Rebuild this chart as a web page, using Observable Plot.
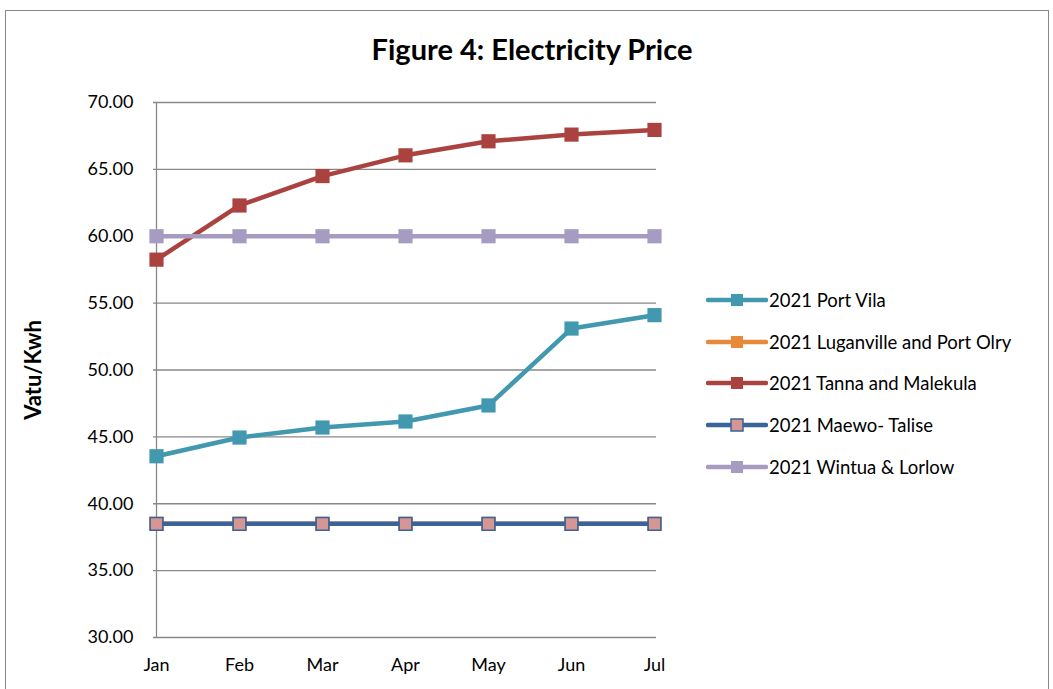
<!DOCTYPE html>
<html>
<head>
<meta charset="utf-8">
<script src="https://cdn.jsdelivr.net/npm/d3@7"></script>
<script src="https://cdn.jsdelivr.net/npm/@observablehq/plot@0.6"></script>
<style>
  html, body { margin: 0; padding: 0; background: #fff; }
  #wrap { position: relative; width: 1053px; height: 689px; overflow: hidden; font-family: Lato, "Open Sans", sans-serif; }
  #frame { position: absolute; left: 5px; top: 10px; width: 1044px; height: 720px; border: 1px solid #888; box-sizing: border-box; }
  #title { position: absolute; left: 0; width: 1064px; top: 31px; text-align: center; font-weight: bold; font-size: 29px; color: #000; }
  #chart { position: absolute; left: 0; top: 80px; }
  #legend { position: absolute; left: 706px; top: 279px; }
  .item { display: flex; align-items: center; height: 41.8px; font-size: 18.5px; color: #000; }
  .item svg { margin-right: 1px; }
  #chart svg text { font-family: Lato, "Open Sans", sans-serif; }
  g[aria-label="y-axis label"] text { font-weight: bold; font-size: 22px; }
</style>
</head>
<body>
<div id="wrap">
  <div id="frame"></div>
  <div id="title">Figure 4: Electricity Price</div>
  <div id="chart"></div>
  <div id="legend"></div>
</div>
<script>
const months = ["Jan", "Feb", "Mar", "Apr", "May", "Jun", "Jul"];
const seriesNames = [
  "2021 Port Vila",
  "2021 Luganville and Port Olry",
  "2021 Tanna and Malekula",
  "2021 Maewo- Talise",
  "2021 Wintua & Lorlow"
];
const portVila   = [43.55, 44.95, 45.70, 46.15, 47.35, 53.10, 54.10];
const luganville = [38.50, 38.50, 38.50, 38.50, 38.50, 38.50, 38.50];
const tanna      = [58.25, 62.30, 64.50, 66.05, 67.10, 67.60, 67.95];
const maewo      = [38.50, 38.50, 38.50, 38.50, 38.50, 38.50, 38.50];
const wintua     = [60.00, 60.00, 60.00, 60.00, 60.00, 60.00, 60.00];
const yTicks = [30, 35, 40, 45, 50, 55, 60, 65, 70];

const seriesValues = [portVila, luganville, tanna, maewo, wintua];
const lineColors   = ["#4198AF", "#E8893A", "#AA4340", "#3A6399", "#A69BC1"];
const markerFill   = ["#4198AF", "#E8893A", "#AA4340", "#D69694", "#A69BC1"];
const markerStroke = ["#4198AF", "#E8893A", "#AA4340", "#3A6399", "#A69BC1"];

const rows = [];
seriesNames.forEach((s, i) => months.forEach((m, j) => rows.push({series: s, idx: i, month: m, value: seriesValues[i][j]})));

const marks = [
  Plot.gridY(yTicks, {stroke: "#888", strokeOpacity: 1, strokeWidth: 1.3}),
  Plot.ruleX([months[0]], {stroke: "#888", strokeWidth: 1.3}),
  Plot.axisY(yTicks, {tickSize: 0, tickPadding: 20, tickFormat: d3.format(".2f"), fontSize: 18,
    label: "Vatu/Kwh", labelAnchor: "center", labelArrow: "none", labelOffset: 128}),
  Plot.axisX({tickSize: 0, tickPadding: 21, fontSize: 18, label: null})
];
seriesNames.forEach((s, i) => {
  const d = rows.filter(r => r.idx === i);
  marks.push(Plot.line(d, {x: "month", y: "value", stroke: lineColors[i], strokeWidth: 4.5}));
  marks.push(Plot.dot(d, {x: "month", y: "value", symbol: "square", r: i === 3 ? 7.2 : 8,
    fill: markerFill[i], stroke: markerStroke[i], strokeWidth: i === 3 ? 1.6 : 0}));
});

const chart = Plot.plot({
  width: 700,
  height: 609,
  marginLeft: 153,
  marginRight: 44,
  marginTop: 22,
  marginBottom: 52,
  x: {type: "point", domain: months, padding: 0},
  y: {domain: [30, 70]},
  style: {color: "#000", background: "transparent", overflow: "visible"},
  marks
});
document.getElementById("chart").appendChild(chart);

const legend = document.getElementById("legend");
seriesNames.forEach((s, i) => {
  const item = document.createElement("div");
  item.className = "item";
  const sw = d3.create("svg").attr("width", 62).attr("height", 16);
  sw.append("line").attr("x1", 2).attr("x2", 60).attr("y1", 8).attr("y2", 8)
    .attr("stroke", lineColors[i]).attr("stroke-width", 4.5).attr("stroke-linecap", "round");
  sw.append("rect").attr("x", 25).attr("y", 2).attr("width", 12).attr("height", 12)
    .attr("fill", markerFill[i]).attr("stroke", markerStroke[i]).attr("stroke-width", i === 3 ? 1.5 : 0);
  item.appendChild(sw.node());
  const t = document.createElement("span");
  t.textContent = s;
  item.appendChild(t);
  legend.appendChild(item);
});
</script>
</body>
</html>
